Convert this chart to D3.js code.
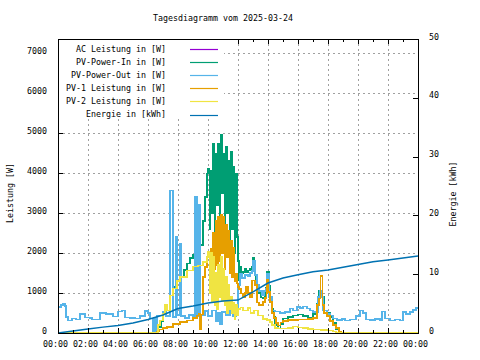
<!DOCTYPE html>
<html><head><meta charset="utf-8">
<script src="https://cdn.jsdelivr.net/npm/d3@7"></script>
<style>html,body{margin:0;padding:0;background:#fff}svg{display:block}</style>
</head><body><svg id="c" width="480" height="360"></svg>
<script>
// ---------- data (time in minutes since 00:00, power in W, energy in kWh) ----------
const title = "Tagesdiagramm vom 2025-03-24";
const xTickMinutes = [0,120,240,360,480,600,720,840,960,1080,1200,1320,1440];
const xTickLabels = ["00:00","02:00","04:00","06:00","08:00","10:00","12:00","14:00","16:00","18:00","20:00","22:00","00:00"];
const yTicks = [0,1000,2000,3000,4000,5000,6000,7000];
const y2Ticks = [0,10,20,30,40,50];
const seriesNames = ["AC Leistung in [W]","PV-Power-In in [W]","PV-Power-Out in [W]","PV-1 Leistung in [W]","PV-2 Leistung in [W]","Energie in [kWh]"];
const seriesColors = ["#9400d3","#009e73","#56b4e9","#e69f00","#f0e442","#0072b2"];

const pvOut = [[0,650],[12,700],[20,730],[28,680],[32,400],[40,310],[56,360],[72,340],[88,480],[108,390],[128,380],[136,340],
 [168,500],[192,470],[220,410],[240,540],[256,560],[268,390],[288,370],[308,360],[328,420],[348,545],[360,500],[368,360],
 [380,0],[384,370],[392,0],[396,440],[420,520],[432,430],[448,3560],[460,400],[472,2400],[476,450],[488,2240],[492,420],
 [508,380],[524,450],[540,400],[548,3400],[556,420],[560,3200],[568,440],[588,550],[600,420],[616,560],[632,300],[640,500],
 [648,230],[656,520],[672,450],[688,560],[700,420],[712,500],[720,1200],[728,1480],[736,1380],[748,1450],[760,1420],
 [768,1500],[776,1550],[780,1800],[788,1450],[796,1200],[804,1050],[816,950],[824,1050],[832,1100],[836,1480],[844,900],
 [856,560],[868,540],[888,500],[908,520],[928,610],[940,560],[956,650],[968,620],[980,660],[996,610],[1008,560],[1020,520],
 [1040,900],[1048,1060],[1056,900],[1060,560],[1076,480],[1088,440],[1100,360],[1116,330],[1136,350],[1148,310],[1168,340],
 [1192,420],[1208,560],[1220,500],[1232,340],[1248,320],[1268,350],[1288,320],[1296,540],[1308,360],[1328,310],[1348,340],
 [1368,310],[1380,520],[1392,470],[1408,520],[1420,580],[1432,620],[1440,620]];

const acLeistung = pvOut; // AC output reads the same as PV-Power-Out (hidden underneath it)

const pvIn = [[0,0],[380,0],[388,60],[400,150],[412,300],[420,520],[428,690],[436,560],[448,940],[460,1150],[476,1300],
 [488,1400],[504,1580],[516,1740],[528,1880],[540,1950],[552,2050],[568,2200],[580,2800],[588,3400],[596,3990],
 [600,4110],[605,2600],[610,4060],[615,3000],[620,4730],[625,2400],[630,4480],[635,3200],[640,4730],[645,2800],
 [650,4960],[655,3500],[660,4480],[665,2500],[670,4650],[675,3000],[680,4310],[685,2200],[690,4520],[695,2600],
 [700,4150],[705,2000],[710,3990],[715,2400],[720,1800],[724,1310],[728,1650],[732,1490],[740,1520],[748,1600],
 [752,1520],[760,1560],[768,1600],[776,1650],[780,1880],[786,1560],[790,1270],[796,1150],[804,1000],[812,890],
 [820,870],[828,1000],[832,1140],[836,1520],[844,1190],[848,900],[856,600],[862,400],[868,200],[880,110],[890,230],
 [900,360],[920,400],[940,440],[960,460],[980,430],[1000,390],[1020,480],[1036,740],[1044,1060],[1050,1440],
 [1058,900],[1064,560],[1076,500],[1088,400],[1100,250],[1112,100],[1124,30],[1132,0],[1440,0]];

const pv1 = [[0,0],[392,0],[396,40],[404,90],[420,120],[436,150],[460,230],[488,270],[516,310],[540,380],[556,440],
 [564,480],[568,100],[572,460],[580,1400],[588,1650],[596,1900],
 [600,1980],[605,1500],[610,2100],[615,1300],[620,2500],[625,1600],[630,2800],[635,1700],[640,2900],[645,1800],
 [650,2950],[655,2000],[660,2900],[665,1600],[670,2700],[675,1900],[680,2560],[685,1500],[690,2300],[695,1400],
 [700,2140],[705,1300],[710,1480],[715,1240],[720,1150],[724,1100],[732,990],[740,900],[748,1000],[752,1150],
 [760,1000],[768,900],[776,1310],[788,1200],[796,760],[804,700],[812,690],[820,770],[828,880],[834,1000],[836,1320],
 [842,1020],[848,770],[856,500],[864,380],[872,250],[880,190],[890,260],[900,300],[920,320],[940,330],[960,340],
 [980,340],[1000,350],[1020,380],[1036,700],[1044,860],[1050,1420],[1058,700],[1064,500],[1076,420],[1088,300],
 [1100,200],[1112,120],[1124,30],[1132,0],[1440,0]];

const pv2 = [[0,0],[392,0],[400,200],[408,310],[420,480],[428,700],[436,560],[448,940],[460,1110],[476,1300],[488,1400],
 [516,1560],[540,1660],[560,1690],[580,1770],[596,1900],
 [600,2020],[605,1000],[610,2000],[615,800],[620,1900],[625,700],[630,1500],[635,600],[640,1700],[645,900],
 [650,1900],[655,800],[660,1600],[665,700],[670,1400],[675,500],[680,1200],[685,600],[690,900],[695,500],
 [700,750],[705,350],[710,700],[715,450],[720,600],[730,640],[740,560],[750,560],[760,620],[770,500],[784,560],
 [800,440],[820,350],[836,330],[848,280],[856,200],[868,120],[880,110],[900,110],[920,120],[940,160],[960,140],
 [980,120],[1000,100],[1020,90],[1050,80],[1080,60],[1100,40],[1112,0],[1440,0]];

const energyHours = [0,1,2,3,4,5,6,7,8,9,10,11,12,13,14,15,16,17,18,19,20,21,22,23,24];
const energyKWh = [0,0.34,0.68,1.0,1.28,1.7,2.3,3.06,4.17,4.6,5.1,5.44,5.6,7.0,8.5,9.35,9.9,10.4,10.7,11.2,11.65,12.1,12.4,12.75,13.1];

// ---------- layout ----------
const L = 58, R = 418, T = 39, B = 333;
const FONT = "'DejaVu Sans Mono', monospace";
const svg = d3.select("#c");
svg.append("rect").attr("width",480).attr("height",360).attr("fill","#fff");

const x = d3.scaleLinear().domain([0,1440]).range([L,R]);
const y = d3.scaleLinear().domain([0,7350]).range([B,T]);
const y2 = d3.scaleLinear().domain([0,50]).range([B,T]);

svg.append("defs").append("clipPath").attr("id","clip")
  .append("rect").attr("x",L).attr("y",T).attr("width",R-L).attr("height",B-T);

// grid
const grid = svg.append("g").attr("stroke","#a0a0a0").attr("stroke-width",1).attr("stroke-dasharray","2,3");
yTicks.filter(v=>v>0).forEach(v=>{
  grid.append("line").attr("x1",L).attr("x2",R).attr("y1",Math.round(y(v))+0.5).attr("y2",Math.round(y(v))+0.5);
});
xTickMinutes.filter(m=>m>0&&m<1440).forEach(m=>{
  grid.append("line").attr("y1",T).attr("y2",B).attr("x1",Math.round(x(m))+0.5).attr("x2",Math.round(x(m))+0.5);
});

// series
const plot = svg.append("g").attr("clip-path","url(#clip)");
const stepLine = d3.line().x(d=>x(d[0])).y(d=>y(d[1])).curve(d3.curveStepAfter);
[acLeistung,pvIn,pvOut,pv1,pv2].forEach((data,i)=>{
  plot.append("path").datum(data).attr("d",stepLine).attr("fill","none")
    .attr("stroke",seriesColors[i]).attr("stroke-width",1.5).attr("shape-rendering","crispEdges");
});
const energyLine = d3.line().x((d,i)=>x(energyHours[i]*60)).y(d=>y2(d));
plot.append("path").datum(energyKWh).attr("d",energyLine).attr("fill","none")
  .attr("stroke",seriesColors[5]).attr("stroke-width",1.5);

// border
svg.append("rect").attr("x",L+0.5).attr("y",T+0.5).attr("width",R-L).attr("height",B-T)
  .attr("fill","none").attr("stroke","#000").attr("stroke-width",1);

// ticks (inward)
const tickG = svg.append("g").attr("stroke","#000").attr("stroke-width",1);
d3.range(0,1441,60).forEach(m=>{
  const len = (m%120===0)?5:3;
  const xx = Math.round(x(m))+0.5;
  tickG.append("line").attr("x1",xx).attr("x2",xx).attr("y1",B).attr("y2",B-len);
  tickG.append("line").attr("x1",xx).attr("x2",xx).attr("y1",T).attr("y2",T+len);
});
yTicks.forEach(v=>{
  const yy = Math.round(y(v))+0.5;
  tickG.append("line").attr("x1",L).attr("x2",L+5).attr("y1",yy).attr("y2",yy);
});
y2Ticks.forEach(v=>{
  const yy = Math.round(y2(v))+0.5;
  tickG.append("line").attr("x1",R-5).attr("x2",R).attr("y1",yy).attr("y2",yy);
});

const txt = svg.append("g").attr("font-family",FONT).attr("font-size","8.3px").attr("fill","#000");
xTickMinutes.forEach((m,i)=>{
  txt.append("text").attr("x",x(m)-2.5).attr("y",347).attr("text-anchor","middle").text(xTickLabels[i]);
});
yTicks.forEach(v=>{
  txt.append("text").attr("x",47).attr("y",y(v)+1).attr("text-anchor","end").text(v);
});
y2Ticks.forEach(v=>{
  txt.append("text").attr("x",429).attr("y",y2(v)+0.5).attr("text-anchor","start").text(v);
});
txt.append("text").attr("transform","translate(12.5,193) rotate(-90)").attr("text-anchor","middle").text("Leistung [W]");
txt.append("text").attr("transform","translate(455.5,194) rotate(-90)").attr("text-anchor","middle").text("Energie [kWh]");
txt.append("text").attr("x",223).attr("y",20.5).attr("text-anchor","middle").text(title);

// legend (opaque)
svg.append("rect").attr("x",L+1).attr("y",T+1).attr("width",165).attr("height",79).attr("fill","#fff");
const lg = svg.append("g");
seriesNames.forEach((name,i)=>{
  const ly = 49 + i*13.1;
  lg.append("text").attr("x",166).attr("y",ly+2.5).attr("text-anchor","end")
    .attr("font-family",FONT).attr("font-size","8.3px").text(name);
  lg.append("line").attr("x1",190).attr("x2",218).attr("y1",Math.round(ly)+0.5).attr("y2",Math.round(ly)+0.5)
    .attr("stroke",seriesColors[i]).attr("stroke-width",1.2);
});
</script></body></html>
